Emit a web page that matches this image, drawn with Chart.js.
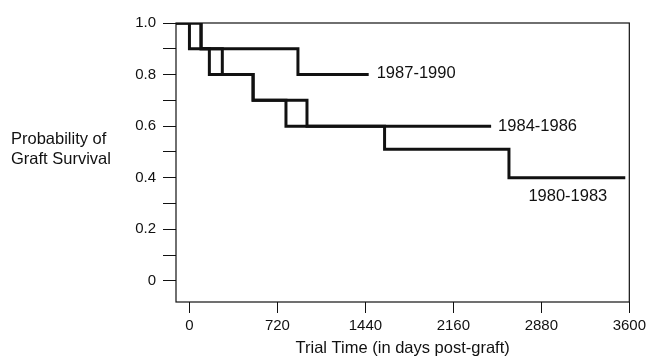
<!DOCTYPE html>
<html>
<head>
<meta charset="utf-8">
<script src="https://cdn.jsdelivr.net/npm/chart.js@4/dist/chart.umd.min.js"></script>
<style>
  html, body { margin: 0; padding: 0; background: #fff; }
  #wrap { width: 650px; height: 358px; }
</style>
</head>
<body>
<div id="wrap"><canvas id="c" width="650" height="358"></canvas></div>
<script>
// ---- data ----
const seriesNames = ['1980-1983', '1984-1986', '1987-1990'];
// Kaplan-Meier steps: [time (days), survival after step]
const time1980 = [-110, 0, 163, 521, 790, 1597, 2615, 3567];
const surv1980 = [1.0, 0.9, 0.8, 0.7, 0.6, 0.51, 0.4, 0.4];
const time1984 = [-110, 95, 269, 521, 962, 2469];
const surv1984 = [1.0, 0.9, 0.8, 0.7, 0.6, 0.6];
const time1987 = [-110, 95, 888, 1467];
const surv1987 = [1.0, 0.9, 0.8, 0.8];
const xTickValues = [0, 720, 1440, 2160, 2880, 3600];
const yTickValues = [0, 0.1, 0.2, 0.3, 0.4, 0.5, 0.6, 0.7, 0.8, 0.9, 1.0];
const xTitle = 'Trial Time (in days post-graft)';
const yTitleLines = ['Probability of', 'Graft Survival'];

// ---- styling ----
const INK = '#111';
const toPoints = (t, s) => t.map((v, i) => ({ x: v, y: s[i] }));
const labelPlacement = [
  { dx: -18, dy: 19, align: 'right' },
  { dx: 7, dy: 0, align: 'left' },
  { dx: 8, dy: -1, align: 'left' }
];

const lineStyle = {
  borderColor: INK, borderWidth: 3, pointRadius: 0, fill: false,
  stepped: true, borderJoinStyle: 'miter', borderCapStyle: 'butt', tension: 0
};

const framePlugin = {
  id: 'frame',
  afterDraw(chart) {
    const { ctx, chartArea: a } = chart;
    ctx.save();
    ctx.strokeStyle = INK;
    ctx.lineWidth = 1.2;
    ctx.strokeRect(a.left, a.top, a.right - a.left, a.bottom - a.top);
    // y title (horizontal, two lines)
    ctx.fillStyle = INK;
    ctx.font = '16.5px "Liberation Sans", Arial, sans-serif';
    ctx.textAlign = 'left';
    ctx.textBaseline = 'middle';
    yTitleLines.forEach((t, i) => ctx.fillText(t, 11, 139 + i * 20));
    // series labels at the end of each curve
    chart.data.datasets.forEach((ds, i) => {
      const meta = chart.getDatasetMeta(i);
      const last = meta.data[meta.data.length - 1];
      const p = labelPlacement[i];
      ctx.textAlign = p.align;
      ctx.fillText(ds.label, last.x + p.dx, last.y + p.dy);
    });
    ctx.restore();
  }
};

new Chart(document.getElementById('c'), {
  type: 'line',
  data: {
    datasets: [
      Object.assign({ label: seriesNames[0], data: toPoints(time1980, surv1980) }, lineStyle),
      Object.assign({ label: seriesNames[1], data: toPoints(time1984, surv1984) }, lineStyle),
      Object.assign({ label: seriesNames[2], data: toPoints(time1987, surv1987) }, lineStyle)
    ]
  },
  options: {
    responsive: false,
    animation: false,
    devicePixelRatio: 1,
    layout: { padding: { top: 23, right: 19, left: 0, bottom: 0 } },
    plugins: { legend: { display: false }, tooltip: { enabled: false } },
    scales: {
      x: {
        type: 'linear',
        min: -110, max: 3600,
        afterFit(s) { s.height = 56; },
        afterBuildTicks(s) { s.ticks = xTickValues.map(v => ({ value: v })); },
        ticks: {
          autoSkip: false, maxRotation: 0, padding: 4, color: INK,
          font: { family: '"Liberation Sans", Arial, sans-serif', size: 15 },
          callback: v => String(v)
        },
        grid: { display: true, drawOnChartArea: false, drawTicks: true, tickLength: 11, tickColor: INK, tickWidth: 1 },
        border: { display: false },
        title: {
          display: true, text: xTitle, color: INK, padding: { top: 0, bottom: 0 },
          font: { family: '"Liberation Sans", Arial, sans-serif', size: 16.5 }
        }
      },
      y: {
        type: 'linear',
        min: -0.082, max: 1.0,
        afterFit(s) { s.width = 176; },
        afterBuildTicks(s) { s.ticks = yTickValues.map(v => ({ value: v })); },
        ticks: {
          autoSkip: false, padding: 7, color: INK,
          font: { family: '"Liberation Sans", Arial, sans-serif', size: 15 },
          callback: v => {
            const k = Math.round(v * 10);
            if (k % 2 !== 0) return '';
            return k === 0 ? '0' : (k / 10).toFixed(1);
          }
        },
        grid: { display: true, drawOnChartArea: false, drawTicks: true, tickLength: 13, tickColor: INK, tickWidth: 1 },
        border: { display: false }
      }
    }
  },
  plugins: [framePlugin]
});
</script>
</body>
</html>
